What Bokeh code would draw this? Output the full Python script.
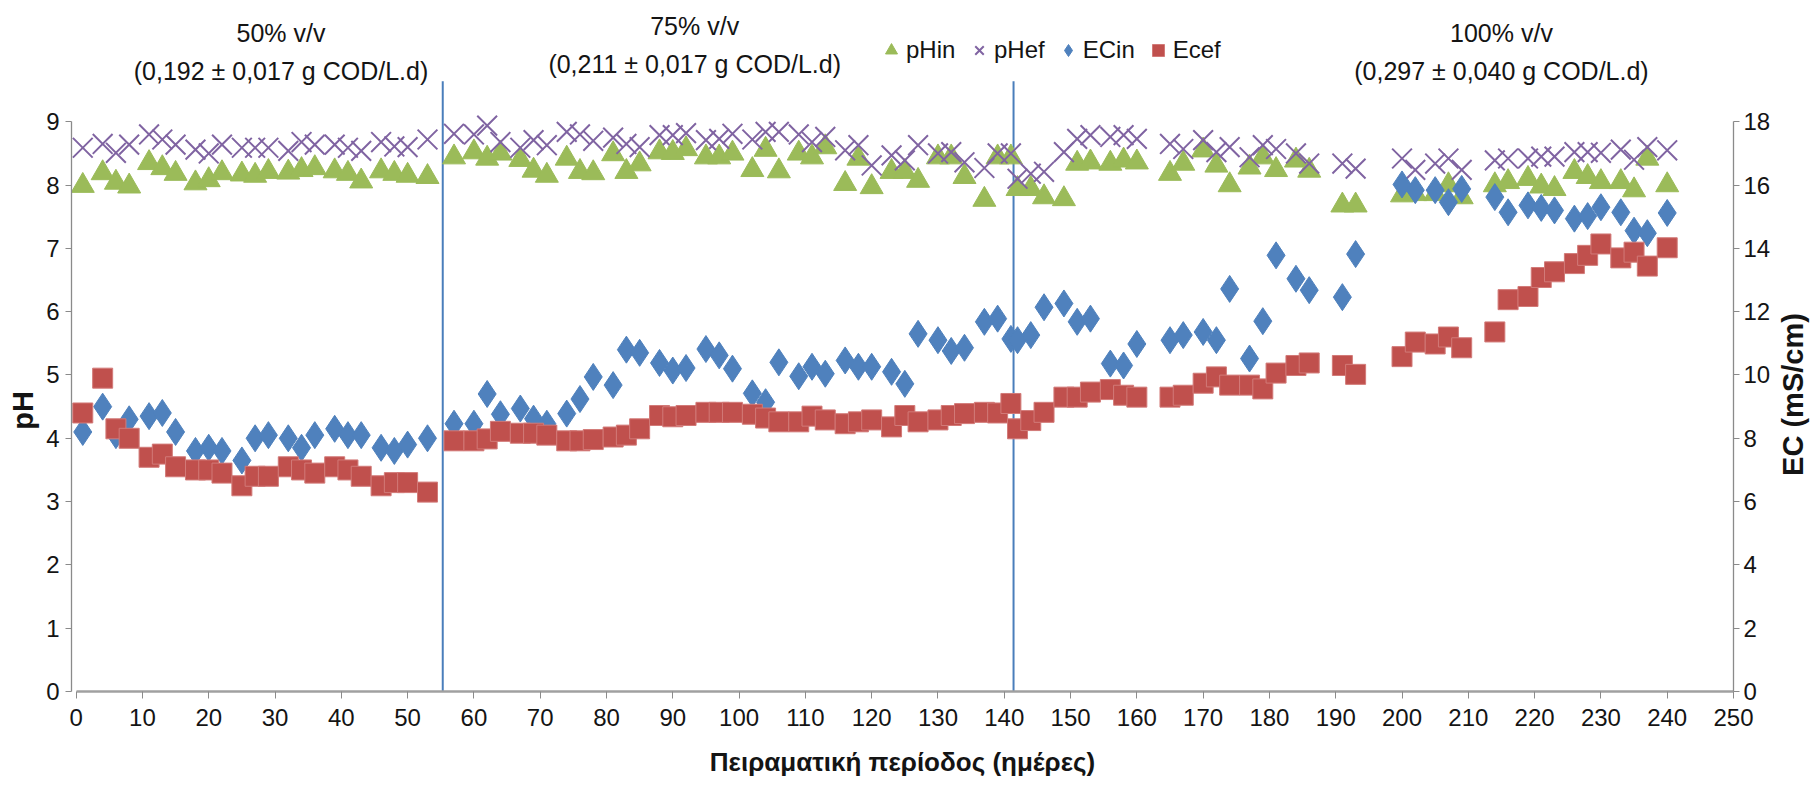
import math
from bokeh.plotting import figure
from bokeh.layouts import row
from bokeh.models import Range1d, LinearAxis, FixedTicker, Legend, LegendItem
from bokeh.embed import file_html
from bokeh.resources import INLINE
from bokeh.core.properties import value

# ---------------- data ----------------
days = [1, 4, 6, 8, 11, 13, 15, 18, 20, 22, 25, 27, 29, 32, 34, 36, 39, 41, 43, 46, 48, 50, 53,
        57, 60, 62, 64, 67, 69, 71, 74, 76, 78, 81, 83, 85, 88, 90, 92, 95, 97, 99,
        102, 104, 106, 109, 111, 113, 116, 118, 120, 123, 125, 127, 130, 132, 134, 137, 139, 141,
        142, 144, 146, 149, 151, 153, 156, 158, 160, 165, 167, 170, 172, 174, 177, 179, 181, 184, 186,
        191, 193, 200, 202, 205, 207, 209, 214, 216, 219, 221, 223, 226, 228, 230, 233, 235, 237, 240]

ph_in = [7.99, 8.19, 8.04, 7.98, 8.35, 8.27, 8.18, 8.03, 8.08, 8.19, 8.17, 8.15, 8.21, 8.20, 8.24, 8.27, 8.22, 8.18, 8.06, 8.22, 8.18, 8.15, 8.13,
         8.44, 8.52, 8.42, 8.50, 8.40, 8.23, 8.15, 8.42, 8.21, 8.19, 8.49, 8.21, 8.33, 8.52, 8.51, 8.57, 8.44, 8.44, 8.50,
         8.24, 8.56, 8.22, 8.50, 8.44, 8.60, 8.02, 8.42, 7.97, 8.21, 8.21, 8.07, 8.44, 8.44, 8.13, 7.77, 8.44, 8.44,
         7.94, 7.94, 7.81, 7.78, 8.34, 8.36, 8.34, 8.39, 8.36, 8.18, 8.34, 8.55, 8.31, 8.00, 8.28, 8.44, 8.24, 8.39, 8.23,
         7.68, 7.68, 7.84, 7.86, 7.86, 8.00, 7.81, 8.00, 8.05, 8.10, 7.98, 7.94, 8.21, 8.13, 8.05, 8.05, 7.92, 8.42, 8.00]

ph_ef = [8.59, 8.65, 8.51, 8.64, 8.80, 8.72, 8.64, 8.56, 8.50, 8.64, 8.59, 8.59, 8.59, 8.54, 8.68, 8.64, 8.64, 8.59, 8.54, 8.68, 8.61, 8.60, 8.72,
         8.81, 8.80, 8.94, 8.68, 8.59, 8.71, 8.63, 8.84, 8.80, 8.70, 8.75, 8.65, 8.60, 8.79, 8.79, 8.82, 8.71, 8.73, 8.81,
         8.72, 8.84, 8.84, 8.80, 8.68, 8.76, 8.55, 8.63, 8.31, 8.47, 8.39, 8.63, 8.50, 8.52, 8.36, 8.27, 8.50, 8.50,
         8.10, 8.18, 8.21, 8.52, 8.73, 8.79, 8.76, 8.79, 8.73, 8.65, 8.57, 8.71, 8.52, 8.60, 8.44, 8.63, 8.57, 8.50, 8.34,
         8.34, 8.26, 8.42, 8.24, 8.34, 8.42, 8.24, 8.39, 8.42, 8.42, 8.45, 8.45, 8.52, 8.52, 8.51, 8.56, 8.40, 8.60, 8.55]

ec_in = [8.2, 9.0, 8.1, 8.6, 8.7, 8.8, 8.2, 7.6, 7.7, 7.6, 7.3, 8.0, 8.1, 8.0, 7.7, 8.1, 8.3, 8.1, 8.1, 7.7, 7.6, 7.8, 8.0,
         8.46, 8.46, 9.4, 8.76, 8.94, 8.62, 8.46, 8.78, 9.24, 9.94, 9.68, 10.8, 10.7, 10.38, 10.14, 10.22, 10.82, 10.62, 10.2,
         9.42, 9.14, 10.4, 9.96, 10.26, 10.04, 10.46, 10.26, 10.26, 10.1, 9.72, 11.3, 11.1, 10.76, 10.86, 11.68, 11.78, 11.14,
         11.1, 11.26, 12.14, 12.26, 11.68, 11.78, 10.36, 10.3, 10.98, 11.1, 11.26, 11.36, 11.1, 12.72, 10.52, 11.7, 13.78, 13.04, 12.68,
         12.46, 13.82, 16.02, 15.84, 15.84, 15.46, 15.88, 15.62, 15.14, 15.36, 15.28, 15.2, 14.94, 15.02, 15.3, 15.14, 14.56, 14.48, 15.12]

ec_ef = [8.8, 9.9, 8.3, 8.0, 7.4, 7.5, 7.1, 7.0, 7.0, 6.9, 6.5, 6.8, 6.8, 7.1, 7.0, 6.9, 7.1, 7.0, 6.8, 6.5, 6.6, 6.6, 6.3,
         7.92, 7.92, 7.98, 8.22, 8.16, 8.16, 8.1, 7.92, 7.92, 7.96, 8.04, 8.1, 8.3, 8.72, 8.68, 8.72, 8.82, 8.82, 8.82,
         8.76, 8.64, 8.52, 8.52, 8.7, 8.58, 8.46, 8.52, 8.58, 8.36, 8.72, 8.52, 8.58, 8.72, 8.78, 8.82, 8.8, 9.1,
         8.3, 8.56, 8.82, 9.3, 9.3, 9.46, 9.54, 9.36, 9.3, 9.3, 9.36, 9.74, 9.94, 9.68, 9.68, 9.56, 10.06, 10.3, 10.38,
         10.3, 10.02, 10.58, 11.04, 10.98, 11.2, 10.86, 11.36, 12.38, 12.48, 13.08, 13.26, 13.52, 13.78, 14.14, 13.7, 13.88, 13.44, 14.02]

x_ticks = list(range(0, 251, 10))
ph_ticks = list(range(0, 10))
ec_ticks = list(range(0, 19, 2))

series_names = ["pHin", "pHef", "ECin", "Ecef"]
phase_bounds = [55.3, 141.4]
phase_titles = ["50% v/v", "75% v/v", "100% v/v"]
phase_loads = ["(0,192 ± 0,017 g COD/L.d)", "(0,211 ± 0,017 g COD/L.d)", "(0,297 ± 0,040 g COD/L.d)"]
x_title = "Πειραματική περίοδος (ημέρες)"
ph_title = "pH"
ec_title = "EC (mS/cm)"

# ---------------- layout / style ----------------
SANS = "Liberation Sans"
TXT = "#141414"
AX = "#8a8a8a"
C_IN = "#9BBB59"
C_EF = "#8064A2"
C_ECIN = "#4F81BD"
C_ECEF = "#C0504D"
NB = "\u00a0"

FRAME_H = 691
Y_TOP = 10.916  # pH value at the very top of the frame

p = figure(frame_width=1662, frame_height=FRAME_H,
           min_border_left=71, min_border_right=38, min_border_top=0, min_border_bottom=98,
           x_range=Range1d(-0.7, 250), y_range=Range1d(0, Y_TOP),
           output_backend="svg", toolbar_location=None,
           background_fill_color="white", border_fill_color="white")
p.outline_line_color = None
p.xgrid.visible = False
p.ygrid.visible = False
p.extra_y_ranges = {"ec": Range1d(0, 2 * Y_TOP)}

# x axis
xa = p.xaxis[0]
xa.bounds = (0, 250)
xa.ticker = FixedTicker(ticks=x_ticks)
xa.axis_line_color = "#a0a0a0"
xa.axis_line_width = 2.5
xa.major_tick_line_color = AX
xa.major_tick_in = 0
xa.major_tick_out = 7
xa.minor_tick_line_color = None
xa.major_label_text_font = SANS
xa.major_label_text_font_size = "24px"
xa.major_label_text_color = TXT
xa.major_label_standoff = 10
xa.axis_label = x_title
xa.axis_label_text_font = SANS
xa.axis_label_text_font_style = "bold"
xa.axis_label_text_font_size = "26px"
xa.axis_label_text_color = TXT
xa.axis_label_standoff = 18

# left axis
ya = p.yaxis[0]
ya.bounds = (0, 9)
ya.ticker = FixedTicker(ticks=ph_ticks)
ya.axis_line_color = AX
ya.axis_line_width = 1.3
ya.major_tick_line_color = AX
ya.major_tick_in = 0
ya.major_tick_out = 6
ya.minor_tick_line_color = None
ya.major_label_text_font = SANS
ya.major_label_text_font_size = "24px"
ya.major_label_text_color = TXT
ya.major_label_standoff = 6
ya.axis_label = ph_title + NB * 16
ya.axis_label_text_font = SANS
ya.axis_label_text_font_style = "bold"
ya.axis_label_text_font_size = "29px"
ya.axis_label_text_color = TXT
ya.axis_label_standoff = 4

# right axis (title drawn in a narrow side panel so it reads bottom-to-top)
ra = LinearAxis(y_range_name="ec", bounds=(0, 18), ticker=FixedTicker(ticks=ec_ticks))
ra.axis_line_color = AX
ra.axis_line_width = 1.3
ra.major_tick_line_color = AX
ra.major_tick_in = 0
ra.major_tick_out = 6
ra.minor_tick_line_color = None
ra.major_label_text_font = SANS
ra.major_label_text_font_size = "24px"
ra.major_label_text_color = TXT
ra.major_label_standoff = 4
p.add_layout(ra, "right")

# phase boundary lines
p.segment(x0=phase_bounds, y0=[0] * len(phase_bounds), x1=phase_bounds, y1=[9.64] * len(phase_bounds),
          line_color="#4A7EBB", line_width=2)

# phase annotations
p.text(x=[30.9, 93.3, 215.0], y=[10.40, 10.52, 10.40], text=phase_titles,
       text_align="center", text_baseline="middle",
       text_font=value(SANS), text_font_size="25px", text_color=TXT)
p.text(x=[30.9, 93.3, 215.0], y=[9.80, 9.91, 9.80], text=phase_loads,
       text_align="center", text_baseline="middle",
       text_font=value(SANS), text_font_size="25px", text_color=TXT)

# series
r_in = p.scatter(days, ph_in, marker="triangle", size=23, fill_color=C_IN, line_color=C_IN, line_width=1)
r_ef = p.scatter(days, ph_ef, marker="x", size=28, line_color=C_EF, line_width=2)
r_ecin = p.scatter(days, ec_in, marker="diamond", size=27, fill_color=C_ECIN, line_color=C_ECIN,
                   line_width=1, y_range_name="ec")
r_ecef = p.scatter(days, ec_ef, marker="square", size=20, fill_color=C_ECEF, line_color="#d27a78",
                   line_width=1, y_range_name="ec")

legend = Legend(items=[LegendItem(label=series_names[0], renderers=[r_in]),
                       LegendItem(label=series_names[1], renderers=[r_ef]),
                       LegendItem(label=series_names[2], renderers=[r_ecin]),
                       LegendItem(label=series_names[3], renderers=[r_ecef])],
                orientation="horizontal", location=(805, 622),
                glyph_width=30, glyph_height=38, label_standoff=0, label_width=50, spacing=8,
                padding=0, margin=0, border_line_color=None, background_fill_alpha=0,
                label_text_font=SANS, label_text_font_size="24px", label_text_color=TXT)
p.add_layout(legend)

# side panel carrying the right-hand axis title (its frame is aligned with the main frame)
side = figure(frame_width=44, frame_height=FRAME_H, x_range=Range1d(0, 44), y_range=Range1d(0, FRAME_H),
              output_backend="svg", toolbar_location=None,
              min_border_left=0, min_border_right=0, min_border_top=0, min_border_bottom=98,
              background_fill_color="white", border_fill_color="white")
side.outline_line_color = None
side.xaxis.visible = False
side.yaxis.visible = False
side.xgrid.visible = False
side.ygrid.visible = False
side.text(x=[19], y=[FRAME_H - 394], text=[ec_title], angle=math.pi / 2,
          text_align="center", text_baseline="middle",
          text_font=value(SANS), text_font_style="bold", text_font_size="29px", text_color=TXT)

layout = row(p, side, spacing=0)
open("out.html", "w").write(file_html(layout, INLINE))
